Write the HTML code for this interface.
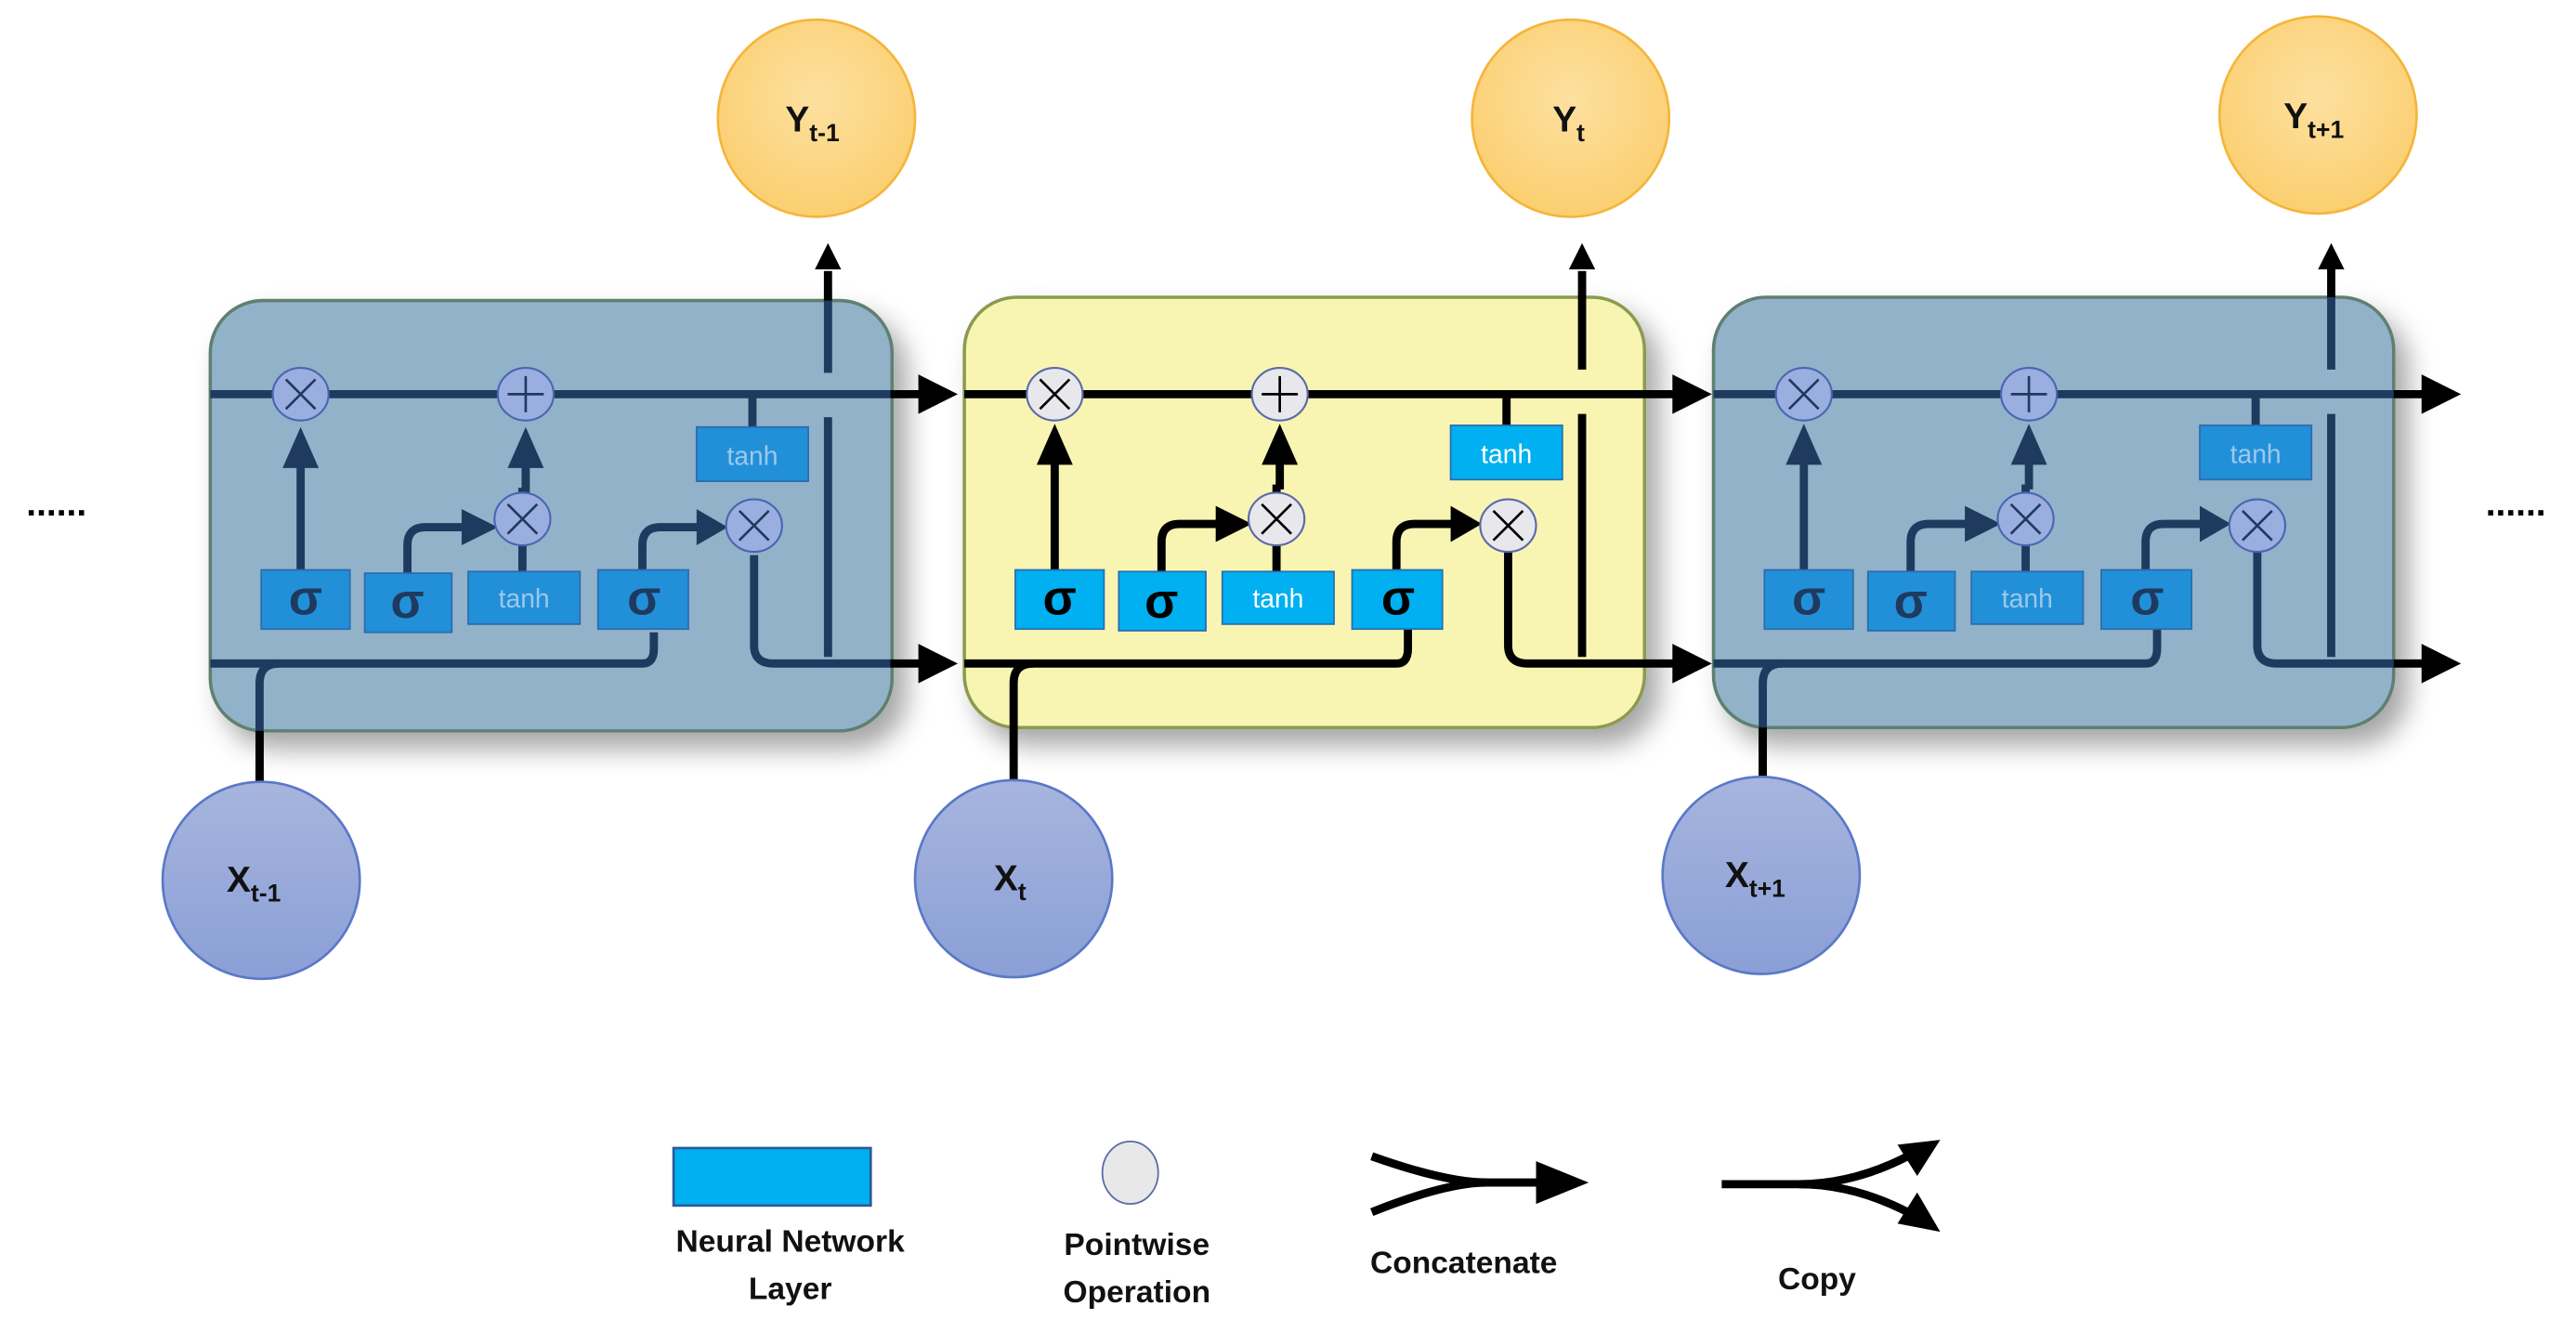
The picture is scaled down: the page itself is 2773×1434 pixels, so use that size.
<!DOCTYPE html>
<html><head><meta charset="utf-8"><style>
html,body{margin:0;padding:0;background:#fff;}
svg{display:block;}
text{font-family:"Liberation Sans",sans-serif;}
</style></head><body>
<svg width="2773" height="1434" viewBox="0 0 1568 811" preserveAspectRatio="none" xmlns="http://www.w3.org/2000/svg">
<defs>
<radialGradient id="gy" cx="50%" cy="40%" r="60%"><stop offset="0" stop-color="#fde0a0"/><stop offset="1" stop-color="#fbcf70"/></radialGradient>
<linearGradient id="gx" x1="0" y1="0" x2="0" y2="1"><stop offset="0" stop-color="#a7b5de"/><stop offset="1" stop-color="#8a9fd6"/></linearGradient>
<filter id="sh" x="-10%" y="-10%" width="130%" height="140%"><feDropShadow dx="8" dy="10" stdDeviation="8" flood-color="#000" flood-opacity="0.35"/></filter>
</defs>

<rect x="128" y="183" width="415" height="262" rx="32" fill="#91b2c9" stroke="#5f8070" stroke-width="2" filter="url(#sh)"/>
<rect x="587" y="181" width="414" height="262" rx="32" fill="#f8f5b3" stroke="#8c9a50" stroke-width="2" filter="url(#sh)"/>
<rect x="1043" y="181" width="414" height="262" rx="32" fill="#91b2c9" stroke="#5f8070" stroke-width="2" filter="url(#sh)"/>

<g stroke="#000" fill="none" stroke-width="5">
  <path d="M587 240 H1020"/>
  <path d="M587 404 H850 Q857 404 857 395 V383"/>
  <path d="M617 476 V416 Q617 404 629 404"/>
  <path d="M642 347 V280"/>
  <path d="M707 348 V330 Q707 319 718 319 H742"/>
  <path d="M777 348 V295"/>
  <path d="M850 347 V330 Q850 319 861 319 H885"/>
  <path d="M779 298 V280"/>
  <path d="M917 240 V259"/>
  <path d="M918 336 V393 Q918 404 930 404 H1020"/>
  <path d="M963 252 V400"/>
  <path d="M963 225 V165"/>
</g>
<g fill="#000">
  <polygon points="631,283 653,283 642,258"/>
  <polygon points="768,283 790,283 779,258"/>
  <polygon points="740,308 740,330 762,319"/>
  <polygon points="883,308 883,330 902,319"/>
  <polygon points="1018,228 1018,252 1042,240"/>
  <polygon points="1018,392 1018,416 1042,404"/>
  <polygon points="955,164 971,164 963,148"/>
</g>
<g fill="#00b0f0" stroke="#2a6db0" stroke-width="1">
  <rect x="618" y="347" width="54" height="36"/>
  <rect x="681" y="348" width="53" height="36"/>
  <rect x="744" y="348" width="68" height="32"/>
  <rect x="823" y="347" width="55" height="36"/>
  <rect x="883" y="259" width="68" height="33"/>
</g>
<g font-weight="bold" font-size="30" text-anchor="middle" fill="#000">
  <text x="645" y="374">σ</text><text x="707" y="376">σ</text><text x="851" y="374">σ</text>
</g>
<g font-size="16" text-anchor="middle" fill="#fff">
  <text x="778" y="370">tanh</text><text x="917" y="282">tanh</text>
</g>
<g fill="#e8e8ec" stroke="#5b6aa8" stroke-width="1.2">
  <ellipse cx="642" cy="240" rx="17" ry="16"/>
  <ellipse cx="779" cy="240" rx="17" ry="16"/>
  <ellipse cx="777" cy="316" rx="17" ry="16"/>
  <ellipse cx="918" cy="320" rx="17" ry="16"/>
</g>
<g stroke="#000" stroke-width="1.5">
  <path d="M633 231 L651 249 M651 231 L633 249"/>
  <path d="M779 229 V251 M768 240 H790"/>
  <path d="M768 307 L786 325 M786 307 L768 325"/>
  <path d="M909 311 L927 329 M927 311 L909 329"/>
</g>

<g transform="translate(-459,2)">
<g stroke="#1f3a5f" fill="none" stroke-width="5">
  <path d="M587 238 H1001"/>
  <path d="M587 402 H850 Q857 402 857 393 V383"/>
  <path d="M617 474 V414 Q617 402 629 402"/>
  <path d="M642 347 V280"/><path d="M707 348 V330 Q707 319 718 319 H742"/>
  <path d="M777 348 V295"/><path d="M850 347 V330 Q850 319 861 319 H885"/>
  <path d="M779 298 V280"/><path d="M917 240 V259"/>
  <path d="M918 336 V391 Q918 402 930 402 H1001"/>
  <path d="M963 252 V398"/><path d="M963 225 V181"/>
</g>
<path d="M617 474 V443" stroke="#000" stroke-width="5"/>
<g stroke="#000" stroke-width="5"><path d="M1001 238 H1020"/><path d="M1001 402 H1020"/><path d="M963 181 V163"/></g>
<g fill="#1f3a5f"><polygon points="631,283 653,283 642,258"/><polygon points="768,283 790,283 779,258"/><polygon points="740,308 740,330 762,319"/><polygon points="883,308 883,330 902,319"/></g>
<g fill="#000"><polygon points="1018,226 1018,250 1042,238"/><polygon points="1018,390 1018,414 1042,402"/><polygon points="955,162 971,162 963,146"/></g>
<g fill="#2290d8" stroke="#2a6db0" stroke-width="1">
  <rect x="618" y="345" width="54" height="36"/><rect x="681" y="347" width="53" height="36"/>
  <rect x="744" y="346" width="68" height="32"/><rect x="823" y="345" width="55" height="36"/>
  <rect x="883" y="258" width="68" height="33"/>
</g>
<g font-weight="bold" font-size="30" text-anchor="middle" fill="#1f3a5f"><text x="645" y="372">σ</text><text x="707" y="374">σ</text><text x="851" y="372">σ</text></g>
<g font-size="16" text-anchor="middle" fill="#9cc8ea"><text x="778" y="368">tanh</text><text x="917" y="281">tanh</text></g>
<g fill="#9aaee0" stroke="#4a66b0" stroke-width="1.2"><ellipse cx="642" cy="238" rx="17" ry="16"/><ellipse cx="779" cy="238" rx="17" ry="16"/><ellipse cx="777" cy="314" rx="17" ry="16"/><ellipse cx="918" cy="318" rx="17" ry="16"/></g>
<g stroke="#1f3a5f" stroke-width="1.5"><path d="M633 229 L651 247 M651 229 L633 247"/><path d="M779 227 V249 M768 238 H790"/><path d="M768 305 L786 323 M786 305 L768 323"/><path d="M909 309 L927 327 M927 309 L909 327"/></g>
</g>

<g transform="translate(456,0)">
<g stroke="#1f3a5f" fill="none" stroke-width="5">
  <path d="M587 240 H1001"/>
  <path d="M587 404 H850 Q857 404 857 395 V383"/>
  <path d="M617 474 V416 Q617 404 629 404"/>
  <path d="M642 347 V280"/><path d="M707 348 V330 Q707 319 718 319 H742"/>
  <path d="M777 348 V295"/><path d="M850 347 V330 Q850 319 861 319 H885"/>
  <path d="M779 298 V280"/><path d="M917 240 V259"/>
  <path d="M918 336 V393 Q918 404 930 404 H1001"/>
  <path d="M963 252 V400"/><path d="M963 225 V181"/>
</g>
<path d="M617 474 V443" stroke="#000" stroke-width="5"/>
<g stroke="#000" stroke-width="5"><path d="M1001 240 H1020"/><path d="M1001 404 H1020"/><path d="M963 181 V163"/></g>
<g fill="#1f3a5f"><polygon points="631,283 653,283 642,258"/><polygon points="768,283 790,283 779,258"/><polygon points="740,308 740,330 762,319"/><polygon points="883,308 883,330 902,319"/></g>
<g fill="#000"><polygon points="1018,228 1018,252 1042,240"/><polygon points="1018,392 1018,416 1042,404"/><polygon points="955,164 971,164 963,148"/></g>
<g fill="#2290d8" stroke="#2a6db0" stroke-width="1">
  <rect x="618" y="347" width="54" height="36"/><rect x="681" y="348" width="53" height="36"/>
  <rect x="744" y="348" width="68" height="32"/><rect x="823" y="347" width="55" height="36"/>
  <rect x="883" y="259" width="68" height="33"/>
</g>
<g font-weight="bold" font-size="30" text-anchor="middle" fill="#1f3a5f"><text x="645" y="374">σ</text><text x="707" y="376">σ</text><text x="851" y="374">σ</text></g>
<g font-size="16" text-anchor="middle" fill="#9cc8ea"><text x="778" y="370">tanh</text><text x="917" y="282">tanh</text></g>
<g fill="#9aaee0" stroke="#4a66b0" stroke-width="1.2"><ellipse cx="642" cy="240" rx="17" ry="16"/><ellipse cx="779" cy="240" rx="17" ry="16"/><ellipse cx="777" cy="316" rx="17" ry="16"/><ellipse cx="918" cy="320" rx="17" ry="16"/></g>
<g stroke="#1f3a5f" stroke-width="1.5"><path d="M633 231 L651 249 M651 231 L633 249"/><path d="M779 229 V251 M768 240 H790"/><path d="M768 307 L786 325 M786 307 L768 325"/><path d="M909 311 L927 329 M927 311 L909 329"/></g>
</g>

<g fill="url(#gy)" stroke="#f5b53a" stroke-width="1.5">
  <ellipse cx="497" cy="72" rx="60" ry="60"/>
  <ellipse cx="956" cy="72" rx="60" ry="60"/>
  <ellipse cx="1411" cy="70" rx="60" ry="60"/>
</g>
<g font-weight="bold" font-size="22" fill="#111">
  <text x="478" y="80">Y<tspan font-size="15" dy="6">t-1</tspan></text>
  <text x="945" y="80">Y<tspan font-size="15" dy="6">t</tspan></text>
  <text x="1390" y="78">Y<tspan font-size="15" dy="6">t+1</tspan></text>
</g>
<g fill="url(#gx)" stroke="#5a78c8" stroke-width="1.5">
  <ellipse cx="159" cy="536" rx="60" ry="60"/>
  <ellipse cx="617" cy="535" rx="60" ry="60"/>
  <ellipse cx="1072" cy="533" rx="60" ry="60"/>
</g>
<g font-weight="bold" font-size="22" fill="#111">
  <text x="138" y="543">X<tspan font-size="15" dy="6">t-1</tspan></text>
  <text x="605" y="542">X<tspan font-size="15" dy="6">t</tspan></text>
  <text x="1050" y="540">X<tspan font-size="15" dy="6">t+1</tspan></text>
</g>

<g font-weight="bold" font-size="22" fill="#000">
  <text x="16" y="314">......</text>
  <text x="1513" y="314">......</text>
</g>

<rect x="410" y="699" width="120" height="35" fill="#00b0f0" stroke="#2a5a9a" stroke-width="1.5"/>
<ellipse cx="688" cy="714" rx="17" ry="19" fill="#e8e8e8" stroke="#5a6aa8" stroke-width="1"/>
<g stroke="#000" stroke-width="5" fill="none">
  <path d="M835 704 Q880 720 905 720 H945"/>
  <path d="M835 738 Q880 720 905 720"/>
  <path d="M1048 721 H1095 Q1130 721 1165 702"/>
  <path d="M1095 721 Q1130 721 1165 740"/>
</g>
<g fill="#000">
  <polygon points="935,707 935,733 967,720"/>
  <polygon points="1155,697 1181,694 1167,716"/>
  <polygon points="1155,745 1181,750 1167,726"/>
</g>
<g font-weight="bold" font-size="19" fill="#111" text-anchor="middle">
  <text x="481" y="762">Neural Network</text>
  <text x="481" y="791">Layer</text>
  <text x="692" y="764">Pointwise</text>
  <text x="692" y="793">Operation</text>
  <text x="891" y="775">Concatenate</text>
  <text x="1106" y="785">Copy</text>
</g>
</svg>
</body></html>
